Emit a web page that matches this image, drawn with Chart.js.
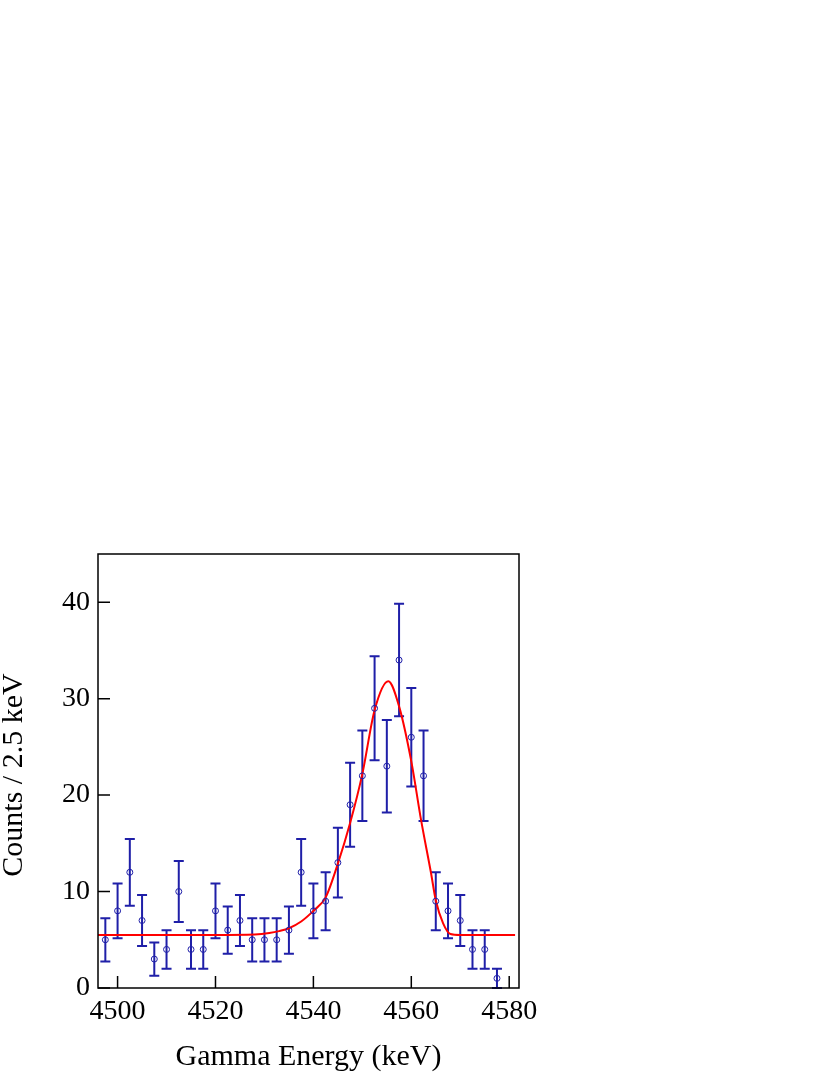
<!DOCTYPE html>
<html>
<head>
<meta charset="utf-8">
<script src="https://cdn.jsdelivr.net/npm/chart.js@4/dist/chart.umd.min.js"></script>
<style>
    body { margin: 0; background: #ffffff; }
    #wrap { width: 830px; height: 1075px; position: relative; }
</style>
</head>
<body>
<div id="wrap"><canvas id="myChart"></canvas></div>
<script>
// Measured spectrum, 2.5 keV bins
const energies = [4497.5, 4500, 4502.5, 4505, 4507.5, 4510, 4512.5, 4515, 4517.5, 4520,
    4522.5, 4525, 4527.5, 4530, 4532.5, 4535, 4537.5, 4540, 4542.5, 4545,
    4547.5, 4550, 4552.5, 4555, 4557.5, 4560, 4562.5, 4565, 4567.5, 4570,
    4572.5, 4575, 4577.5];
const counts = [5, 8, 12, 7, 3, 4, 10, 4, 4, 8,
    6, 7, 5, 5, 5, 6, 12, 8, 9, 13,
    19, 22, 29, 23, 34, 26, 22, 9, 8, 7,
    4, 4, 1];
const errors = [2.24, 2.83, 3.46, 2.65, 1.73, 2.0, 3.16, 2.0, 2.0, 2.83,
    2.45, 2.65, 2.24, 2.24, 2.24, 2.45, 3.46, 2.83, 3.0, 3.61,
    4.36, 4.69, 5.39, 4.8, 5.83, 5.1, 4.69, 3.0, 2.83, 2.65,
    2.0, 2.0, 1.0];

// Fit curve
const fitEnergy = [4496, 4520, 4528, 4531, 4533, 4535, 4537.5, 4540, 4542.5, 4545,
    4547.5, 4550, 4552.5, 4555.3, 4557.5, 4560, 4562, 4564, 4565, 4566.5,
    4568, 4570, 4581.2];
const fitCounts = [5.5, 5.5, 5.55, 5.7, 5.9, 6.2, 6.9, 8.0, 9.4, 12.9,
    17.1, 22.2, 28.8, 31.8, 29.2, 23.5, 17.4, 12.0, 9.1, 6.7,
    5.6, 5.5, 5.5];

const xTicks = [4500, 4520, 4540, 4560, 4580];
const yTicks = [0, 10, 20, 30, 40];

const xTitle = 'Gamma Energy (keV)';
const yTitle = 'Counts / 2.5 keV';

const dataColor = '#1f1fa8';
const fitColor = '#ff0000';
const fontFamily = "'Liberation Serif', 'DejaVu Serif', serif";

// error bars, frame, inward ticks and axis titles
const decorations = {
    id: 'decorations',
    beforeDatasetsDraw(chart) {
        const ctx = chart.ctx;
        const xs = chart.scales.x;
        const ys = chart.scales.y;
        ctx.save();
        ctx.strokeStyle = dataColor;
        ctx.lineWidth = 2;
        energies.forEach((e, i) => {
            const px = xs.getPixelForValue(e);
            const top = ys.getPixelForValue(counts[i] + errors[i]);
            const bot = ys.getPixelForValue(Math.max(0, counts[i] - errors[i]));
            ctx.beginPath();
            ctx.moveTo(px, top);
            ctx.lineTo(px, bot);
            ctx.moveTo(px - 5, top);
            ctx.lineTo(px + 5, top);
            ctx.moveTo(px - 5, bot);
            ctx.lineTo(px + 5, bot);
            ctx.stroke();
        });
        ctx.restore();
    },
    afterDraw(chart) {
        const ctx = chart.ctx;
        const area = chart.chartArea;
        const xs = chart.scales.x;
        const ys = chart.scales.y;
        ctx.save();
        ctx.strokeStyle = '#000000';
        ctx.lineWidth = 1.5;
        ctx.strokeRect(area.left, area.top, area.right - area.left, area.bottom - area.top);

        ctx.beginPath();
        xTicks.forEach(v => {
            const px = xs.getPixelForValue(v);
            ctx.moveTo(px, area.bottom);
            ctx.lineTo(px, area.bottom - 12);
        });
        yTicks.forEach(v => {
            const py = ys.getPixelForValue(v);
            ctx.moveTo(area.left, py);
            ctx.lineTo(area.left + 12, py);
        });
        ctx.stroke();

        ctx.fillStyle = '#000000';
        ctx.font = '30px ' + fontFamily;
        ctx.textAlign = 'center';
        ctx.textBaseline = 'middle';
        ctx.fillText(xTitle, (area.left + area.right) / 2, 1057);

        ctx.translate(14, 775);
        ctx.rotate(-Math.PI / 2);
        ctx.fillText(yTitle, 0, 0);
        ctx.restore();
    }
};

new Chart(document.getElementById('myChart'), {
    type: 'scatter',
    data: {
        datasets: [{
            label: 'data',
            data: energies.map((e, i) => ({ x: e, y: counts[i] })),
            showLine: false,
            pointStyle: 'circle',
            pointRadius: 3,
            pointBorderWidth: 1,
            pointBorderColor: dataColor,
            pointBackgroundColor: 'rgba(0,0,0,0)',
            order: 1
        }, {
            label: 'fit',
            data: fitEnergy.map((e, i) => ({ x: e, y: fitCounts[i] })),
            showLine: true,
            borderColor: fitColor,
            borderWidth: 2,
            pointRadius: 0,
            cubicInterpolationMode: 'monotone',
            order: 2
        }]
    },
    options: {
        responsive: true,
        maintainAspectRatio: false,
        animation: false,
        events: [],
        layout: {
            padding: { left: 0, top: 554, right: 311, bottom: 0 }
        },
        plugins: {
            legend: { display: false },
            tooltip: { enabled: false }
        },
        scales: {
            x: {
                type: 'linear',
                min: 4496,
                max: 4582,
                afterBuildTicks: scale => { scale.ticks = xTicks.map(v => ({ value: v })); },
                afterFit: scale => { scale.height = 87; },
                grid: { display: false, drawTicks: false },
                border: { display: false },
                ticks: {
                    color: '#000000',
                    padding: 7,
                    maxRotation: 0,
                    callback: v => String(v),
                    font: { family: fontFamily, size: 28 }
                }
            },
            y: {
                type: 'linear',
                min: 0,
                max: 45,
                afterBuildTicks: scale => { scale.ticks = yTicks.map(v => ({ value: v })); },
                afterFit: scale => { scale.width = 98; },
                grid: { display: false, drawTicks: false },
                border: { display: false },
                ticks: {
                    color: '#000000',
                    padding: 8,
                    callback: v => String(v),
                    font: { family: fontFamily, size: 28 }
                }
            }
        }
    },
    plugins: [decorations]
});
</script>
</body>
</html>
